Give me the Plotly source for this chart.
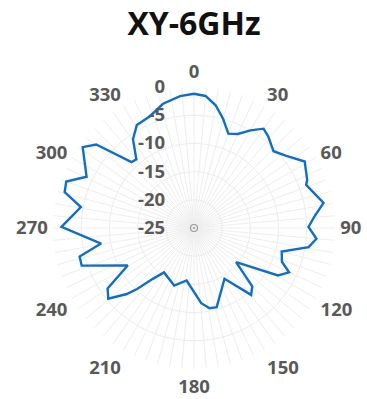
import plotly.graph_objects as go

# Pattern (angle in degrees, gain in dB)
theta_deg = [0, 5, 10, 15, 20, 25, 30, 35, 39, 46, 52, 59, 67, 69, 79, 84, 89.5, 95, 99.5,
             105, 111, 115, 119.5, 129, 135, 139.5, 149, 164, 169, 174.5, 188, 199, 214,
             219, 223, 225.5, 230.5, 235, 240.5, 251.5, 256, 260.5, 270.5, 280.5, 285.5,
             290, 295.5, 306, 310.5, 316.5, 320, 325.5, 331, 338.5, 346, 354]
gain_db = [-1.2, -1.5, -2.9, -5.0, -7.2, -6.6, -5.0, -3.5, -4.1, -5.4, -4.2, -2.1, -3.2, -3.7,
           -1.6, -3.4, -4.7, -3.2, -4.4,
           -8.9, -8.3, -6.4, -7.9, -15.4, -10.4, -9.4, -14.5, -10.4, -10.5, -11.6,
           -15.6, -14.2, -15.5, -13.4, -10.2, -8.3, -5.3, -6.3, -11.5,
           -4.0, -4.1, -8.3, -1.5, -4.6, -1.2, -0.9, -3.9, -0.6, -2.2, -8.9, -9.1,
           -5.9, -4.1, -3.7, -2.3, -1.5]

angle_ticks = list(range(0, 360, 5))
angle_labels = [str(a) if a % 30 == 0 else "" for a in angle_ticks]
radial_ticks = [-25, -20, -15, -10, -5, 0]
radial_labels = ["-25", "-20", "-15", "-10", "-5", "0"]

label_font = dict(family="Open Sans", size=18.5, color="#595959", weight="bold")

fig = go.Figure()
fig.add_trace(go.Scatterpolar(
    r=gain_db + gain_db[:1],
    theta=theta_deg + theta_deg[:1],
    mode="lines",
    line=dict(color="#0f6fc6", width=2.4),
    showlegend=False,
    hoverinfo="skip",
))
fig.add_trace(go.Scatterpolar(
    r=[radial_ticks[0]], theta=[0], mode="markers",
    marker=dict(symbol="circle-open-dot", size=7, color="#9a9a9a", line=dict(width=1.2)),
    showlegend=False, hoverinfo="skip",
))

W, H = 367, 399
cx, cy, R = 194, 228, 141
fig.update_layout(
    width=W, height=H,
    margin=dict(l=0, r=0, t=0, b=0),
    paper_bgcolor="white",
    title=dict(text="XY-6GHz", x=cx / W, xanchor="center", y=1 - 24 / H, yanchor="middle",
               font=dict(family="Open Sans", size=32, color="#111111", weight="bold")),
    polar=dict(
        domain=dict(x=[(cx - R) / W, (cx + R) / W], y=[(H - cy - R) / H, (H - cy + R) / H]),
        bgcolor="white",
        angularaxis=dict(
            rotation=90, direction="clockwise",
            tickmode="array", tickvals=angle_ticks, ticktext=angle_labels,
            tickfont=label_font,
            showline=False, gridcolor="#eeeeee", gridwidth=1,
            ticks="outside", ticklen=1, tickcolor="rgba(0,0,0,0)",
        ),
        radialaxis=dict(
            range=[-25, 0], angle=90, side="counterclockwise",
            tickmode="array", tickvals=radial_ticks, ticktext=radial_labels,
            tickfont=label_font, tickangle=90,
            showline=False, gridcolor="#ececec", gridwidth=1,
            ticks="outside", ticklen=22, tickcolor="rgba(0,0,0,0)",
        ),
    ),
)
# remove the browser's default 8px body margin so the figure fills the window exactly
fig.write_html("out.html",
               config={"displayModeBar": False},
               post_script="document.body.style.margin='0';document.body.style.overflow='hidden';")
